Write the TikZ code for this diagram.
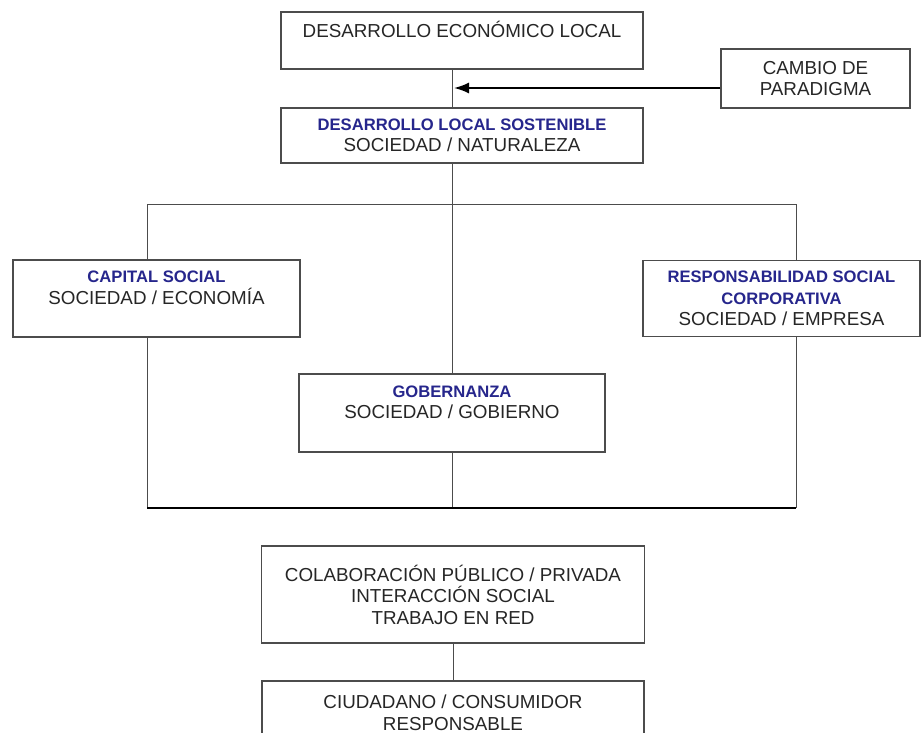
\documentclass[tikz,border=0pt]{standalone}
\usepackage{fontspec}
\setmainfont{Liberation Sans}
\usetikzlibrary{arrows.meta, backgrounds}

\definecolor{titleblue}{RGB}{38,38,140}
\newcommand{\titulo}[1]{{\color{titleblue}\fontsize{16.6}{21.5}\selectfont\bfseries #1}}

\begin{document}
\begin{tikzpicture}[
      x=1pt, y=-1pt,
      box/.style={draw=black!70, line width=1.1pt, fill=white, align=center,
        inner sep=0pt, text=black!85, font=\fontsize{18.8}{21.5}\selectfont},
      link/.style={draw=black!70, line width=1pt},
      base/.style={draw=black, line width=2pt},
      push/.style={draw=black, line width=1.8pt, -{Latex[length=15pt, width=11pt]}}
    ]

    \useasboundingbox (0,0) rectangle (921,733);
    \clip (0,0) rectangle (921,733);

    % Upper boxes
    \node[box, minimum width=362, minimum height=57] (delocal) at (462,40.5)
      {DESARROLLO ECONÓMICO LOCAL\\~};
    \node[box, minimum width=362, minimum height=55] (dls) at (462,135.5)
      {\titulo{DESARROLLO LOCAL SOSTENIBLE}\\SOCIEDAD / NATURALEZA};
    \node[box, minimum width=189, minimum height=59] (cambio) at (815.5,78.5)
      {CAMBIO DE\\PARADIGMA};

    % Three pillars
    \node[box, minimum width=287, minimum height=77] (capital) at (156.5,298.5)
      {\titulo{CAPITAL SOCIAL}\\SOCIEDAD / ECONOMÍA\\~};
    \node[box, minimum width=277, minimum height=76] (rsc) at (781.5,298.5)
      {\titulo{RESPONSABILIDAD SOCIAL}\\\titulo{CORPORATIVA}\\SOCIEDAD / EMPRESA};
    \node[box, minimum width=306, minimum height=78] (gob) at (452,413)
      {\titulo{GOBERNANZA}\\SOCIEDAD / GOBIERNO\\~};

    % Lower boxes
    \node[box, minimum width=383, minimum height=97] (colab) at (453,594.5)
      {COLABORACIÓN PÚBLICO / PRIVADA\\INTERACCIÓN SOCIAL\\TRABAJO EN RED};
    \node[box, minimum width=382, minimum height=64] (ciud) at (453,713)
      {CIUDADANO / CONSUMIDOR\\RESPONSABLE};

    % Frame corners and arrow end
    \coordinate (ftl) at (147,204);
    \coordinate (ftr) at (796,204);
    \coordinate (fbl) at (147,508);
    \coordinate (fbr) at (796,508);
    \coordinate (hit) at (454,88);

    % Connectors
    \begin{scope}[on background layer]
      \draw[link] (delocal.south -| gob) -- (dls.north -| gob);
      \draw[link] (dls.south -| gob) -- (gob.north);
      \draw[link] (ftl) -- (ftr);
      \draw[link] (ftl) -- (fbl);
      \draw[link] (ftr) -- (fbr);
      \draw[link] (gob.south) -- (gob |- fbl);
      \draw[link] (colab.south -| ciud.north) -- (ciud.north);
    \end{scope}
    \draw[base] (fbl) -- (fbr);
    \draw[push] (cambio.west |- hit) -- (hit);

  \end{tikzpicture}
\end{document}
